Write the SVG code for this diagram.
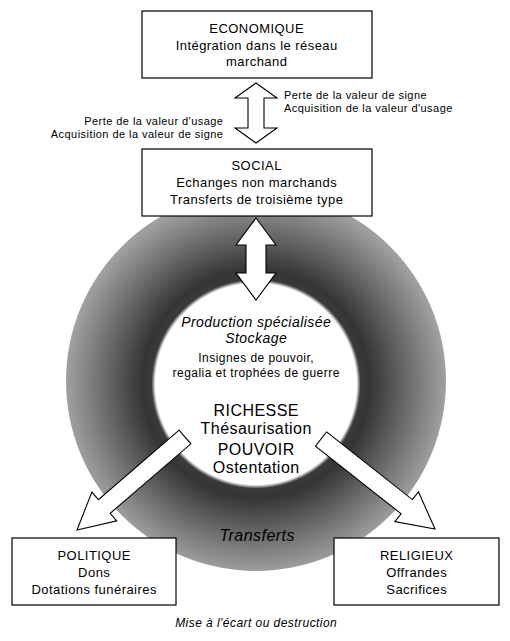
<svg xmlns="http://www.w3.org/2000/svg" width="510" height="641" viewBox="0 0 510 641">
<style>
text{font-family:"Liberation Sans",Arial,sans-serif;fill:#000;text-anchor:middle;letter-spacing:0.45px}
.box{fill:#fff;stroke:#000;stroke-width:1.2}
.arrow{fill:#fff;stroke:#000;stroke-width:1.1;stroke-linejoin:miter}
.t13{font-size:13px}
.t11{font-size:11px}
.t12{font-size:12px}
.t14i{font-size:14px;font-style:italic}
.t16{font-size:16px}
.it{font-style:italic}
.r{text-anchor:end}
.l{text-anchor:start}
</style>
<defs>
<radialGradient id="ringGrad" gradientUnits="userSpaceOnUse" cx="256" cy="384" r="190">
<stop offset="0" stop-color="#fff"/>
<stop offset="0.53" stop-color="#fff"/>
<stop offset="0.55" stop-color="#3a3a3a"/>
<stop offset="0.6" stop-color="#353535"/>
<stop offset="0.78" stop-color="#666"/>
<stop offset="1" stop-color="#a0a0a0"/>
</radialGradient>
</defs>
<rect width="510" height="641" fill="#fff"/>
<g id="ring"><circle cx="256" cy="381" r="190" fill="url(#ringGrad)"/></g>
<g id="centre"><circle cx="256" cy="384" r="100" fill="#fff"/></g>
<g id="connectors">
<path class="arrow" d="M256,83 L277,98 L264,98 L264,128 L277,128 L256,143 L235,128 L248,128 L248,98 L235,98 Z"/>
<path class="arrow" d="M256,218 L276,245 L266,245 L266,273 L276,273 L256,300 L236,273 L246,273 L246,245 L236,245 Z"/>
<path class="arrow" d="M179.1,430.2 L98.4,499.7 L91.9,492.1 L77,530 L116.7,520.9 L110.2,513.3 L190.9,443.8 Z"/>
<path class="arrow" d="M326.6,431.9 L412.3,499.6 L418.5,491.8 L435,529 L394.9,521.6 L401.1,513.8 L315.4,446.1 Z"/>
</g>
<g id="economique">
<rect class="box" x="142" y="11" width="230" height="67"/>
<text class="t13" x="256.7" y="33">ECONOMIQUE</text>
<text class="t13" x="256.7" y="49.5">Intégration dans le réseau</text>
<text class="t13" x="256.7" y="66">marchand</text>
</g>
<g id="labels-eco-social">
<text class="t11 l" x="284" y="99">Perte de la valeur de signe</text>
<text class="t11 l" x="284" y="112">Acquisition de la valeur d'usage</text>
<text class="t11 r" x="223.4" y="124.5">Perte de la valeur d'usage</text>
<text class="t11 r" x="223.4" y="137.5">Acquisition de la valeur de signe</text>
</g>
<g id="social">
<rect class="box" x="142" y="149" width="230" height="67"/>
<text class="t13" x="256.7" y="170">SOCIAL</text>
<text class="t13" x="256.7" y="187">Echanges non marchands</text>
<text class="t13" x="256.7" y="204">Transferts de troisième type</text>
</g>
<g id="centre-text">
<text class="t14i" x="256.2" y="327">Production spécialisée</text>
<text class="t14i" x="256.2" y="343">Stockage</text>
<text class="t12" x="256.2" y="361.5">Insignes de pouvoir,</text>
<text class="t12" x="256.2" y="376.5">regalia et trophées de guerre</text>
<text class="t16" x="256.2" y="416">RICHESSE</text>
<text class="t16" x="256.2" y="434">Thésaurisation</text>
<text class="t16" x="256.2" y="455">POUVOIR</text>
<text class="t16" x="256.2" y="473">Ostentation</text>
</g>
<g id="transferts"><text class="t16 it" x="257.2" y="541">Transferts</text></g>
<g id="politique">
<rect class="box" x="12" y="538" width="164" height="67"/>
<text class="t13" x="94.2" y="560">POLITIQUE</text>
<text class="t13" x="94.2" y="577">Dons</text>
<text class="t13" x="94.2" y="593.5">Dotations funéraires</text>
</g>
<g id="religieux">
<rect class="box" x="334" y="538" width="165" height="67"/>
<text class="t13" x="416.7" y="560">RELIGIEUX</text>
<text class="t13" x="416.7" y="577">Offrandes</text>
<text class="t13" x="416.7" y="593.5">Sacrifices</text>
</g>
<g id="mise"><text class="t12 it" x="256.2" y="627">Mise à l'écart ou destruction</text></g>
</svg>
